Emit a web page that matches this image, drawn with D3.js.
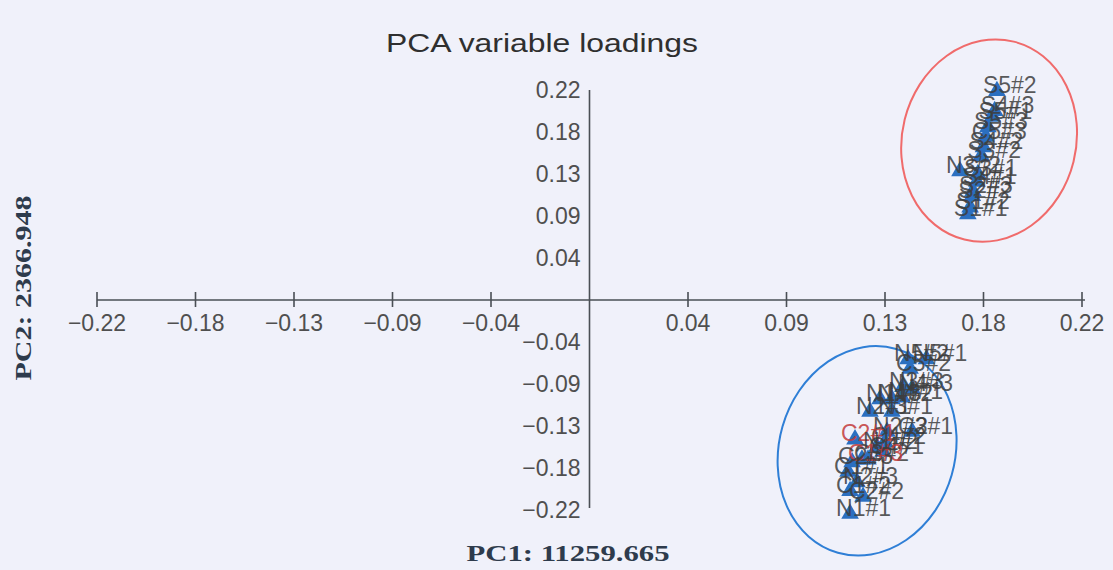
<!DOCTYPE html>
<html>
<head>
<meta charset="utf-8">
<script src="https://cdn.jsdelivr.net/npm/d3@7"></script>
<style>
  body { margin: 0; background: #f0f1fa; }
  svg { display: block; }
</style>
</head>
<body>
<svg id="chart" width="1113" height="570"></svg>
<script>
// loadings
const topNames = ['S5#2','S4#3','S5#1','S5#3','C5#3','S4#2','S3#2','N3#2','S3#1','S4#1','S2#3','S2#2','S1#2','S1#1']
const topPC1 = [0.182,0.181,0.180,0.178,0.177,0.176,0.175,0.1655,0.1735,0.173,0.1713,0.171,0.170,0.169]
const topPC2 = [0.218,0.197,0.191,0.180,0.170,0.159,0.150,0.134,0.131,0.123,0.113,0.108,0.096,0.089]

const botNames = ['N5#1','N5#2','C5#2','N4#3','N3#3','N4#1','N4#2','N1#3','N2#1','N3#1','C3#1','N2#2',
                  'C4#2','C2#1','N1#2','C4#1','C3#2','C1#3','C2#3','C1#1','N2#3','C1#2','C2#2','N1#1']
const botPC1 = [0.1505,0.1423,0.1432,0.1441,0.140,0.1396,0.1351,0.1298,0.1253,0.1351,0.1441,0.1329,
                0.132,0.1186,0.1284,0.1311,0.1244,0.1217,0.1173,0.1155,0.1195,0.1164,0.1222,0.1164]
const botPC2 = [-0.063,-0.063,-0.073,-0.094,-0.092,-0.103,-0.105,-0.105,-0.118,-0.118,-0.139,-0.139,
                -0.150,-0.147,-0.155,-0.160,-0.168,-0.168,-0.171,-0.181,-0.192,-0.201,-0.207,-0.225]
const redNames = ['C2#1','C1#3']

const tickVals = [-0.22,-0.176,-0.132,-0.088,-0.044,0.044,0.088,0.132,0.176,0.22]

const title = 'PCA variable loadings'
const xTitle = 'PC1:  11259.665'
const yTitle = 'PC2:  2366.948'

let points = []
topNames.forEach((n,i)=>points.push({name:n, pc1:topPC1[i], pc2:topPC2[i]}))
botNames.forEach((n,i)=>points.push({name:n, pc1:botPC1[i], pc2:botPC2[i]}))

let svg = d3.select('#chart')

let x = d3.scaleLinear().domain([-0.22,0.22]).range([97,1082])
let y = d3.scaleLinear().domain([-0.22,0.22]).range([510,90])
let fmt = d3.format('.2f')

svg.append('text')
   .attr('x',542).attr('y',52)
   .attr('text-anchor','middle')
   .attr('textLength',312).attr('lengthAdjust','spacingAndGlyphs')
   .style('font-family','Liberation Sans, Arial, sans-serif')
   .style('font-size','26px')
   .attr('fill','#2f2f2f')
   .text(title)

// x axis with ticks crossing the line
let xAxis = svg.append('g').attr('transform','translate(0,'+y(0)+')')
xAxis.append('line')
     .attr('x1',x(-0.22)).attr('x2',x(0.22)+3)
     .attr('stroke','#4a4f55').attr('stroke-width',1.6)
let xt = xAxis.selectAll('g.tick').data(tickVals).enter().append('g')
              .attr('transform',d=>'translate('+x(d)+',0)')
xt.append('line').attr('y1',-8).attr('y2',7).attr('stroke','#4a4f55').attr('stroke-width',1.6)
xt.append('text').attr('y',31).attr('text-anchor','middle')
  .style('font-family','Liberation Sans, Arial, sans-serif').style('font-size','23px')
  .attr('fill','#4f4f4f').text(d=>fmt(d))

// y axis: line plus labels only
let yAxis = svg.append('g').attr('transform','translate('+x(0)+',0)')
yAxis.append('line')
     .attr('y1',y(0.22)).attr('y2',y(-0.22)-2)
     .attr('stroke','#4a4f55').attr('stroke-width',1.6)
yAxis.selectAll('text').data(tickVals).enter().append('text')
     .attr('x',-9).attr('y',d=>y(d)).attr('dy','0.36em')
     .attr('text-anchor','end')
     .style('font-family','Liberation Sans, Arial, sans-serif').style('font-size','23px')
     .attr('fill','#4f4f4f').text(d=>fmt(d))

svg.append('text')
   .attr('x',568).attr('y',561)
   .attr('text-anchor','middle')
   .attr('textLength',203).attr('lengthAdjust','spacingAndGlyphs')
   .style('font-family','Liberation Serif, Times New Roman, serif')
   .style('font-size','24px').style('font-weight','bold')
   .attr('fill','#2e3b4c').text(xTitle)

svg.append('text')
   .attr('transform','translate(31,288) rotate(-90)')
   .attr('text-anchor','middle')
   .attr('textLength',185).attr('lengthAdjust','spacingAndGlyphs')
   .style('font-family','Liberation Serif, Times New Roman, serif')
   .style('font-size','24px').style('font-weight','bold')
   .attr('fill','#2e3b4c').text(yTitle)

// group outlines
let rings = [
  {cx:0.1785, cy:0.167, rx:87, ry:102, rot:14, color:'#f06b6b'},
  {cx:0.124, cy:-0.158, rx:88, ry:106, rot:16, color:'#2f7fd6'}
]
svg.selectAll('ellipse').data(rings).enter().append('ellipse')
   .attr('transform',d=>'translate('+x(d.cx)+','+y(d.cy)+') rotate('+d.rot+')')
   .attr('rx',d=>d.rx).attr('ry',d=>d.ry)
   .attr('fill','none').attr('stroke',d=>d.color).attr('stroke-width',2)

let tri = d3.symbol().type(d3.symbolTriangle).size(135)
svg.append('g').selectAll('path').data(points).enter().append('path')
   .attr('d',tri)
   .attr('transform',d=>'translate('+x(d.pc1)+','+(y(d.pc2)-1)+')')
   .attr('fill','#2b6fc0')

svg.append('g').selectAll('text').data(points).enter().append('text')
   .attr('x',d=>x(d.pc1)-14).attr('y',d=>y(d.pc2)+1)
   .style('font-family','Liberation Sans, Arial, sans-serif').style('font-size','23px')
   .attr('fill',d=>redNames.includes(d.name)?'#c23a3a':'#3d3d3d')
   .attr('fill-opacity',0.85)
   .text(d=>d.name)
</script>
</body>
</html>
